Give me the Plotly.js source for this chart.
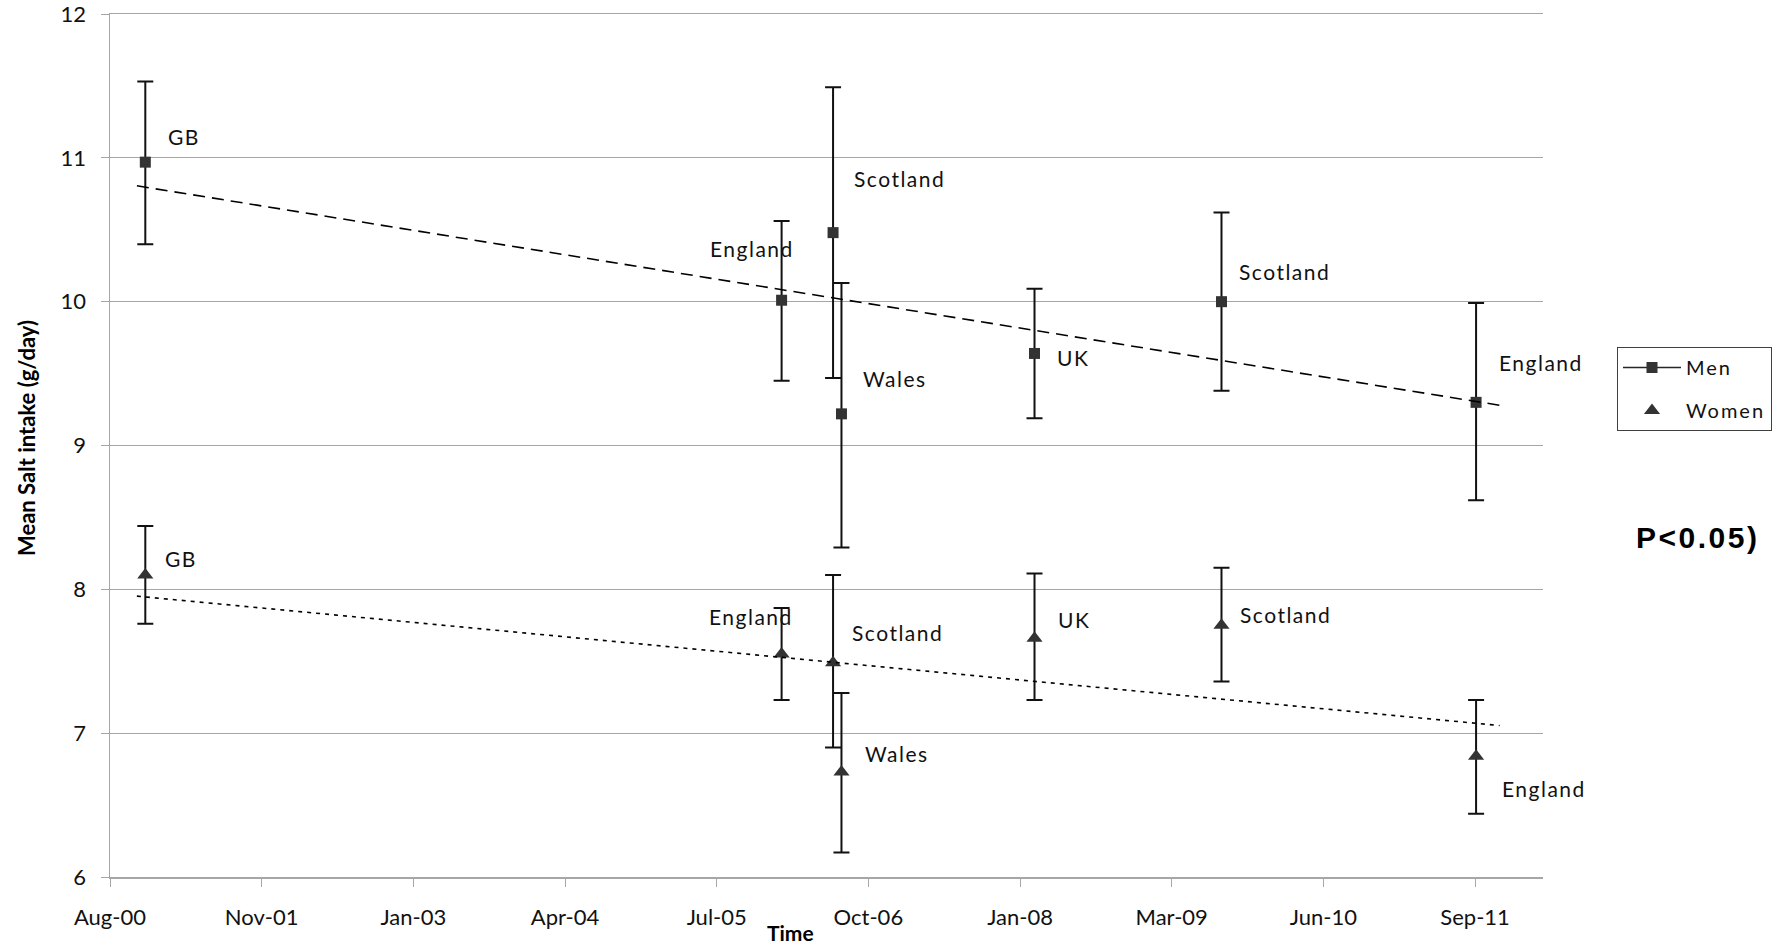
<!DOCTYPE html>
<html><head><meta charset="utf-8">
<script src="https://cdn.plot.ly/plotly-3.0.1.min.js"></script>
<style>html,body{margin:0;padding:0;background:#fff}#chart{width:1780px;height:947px}</style>
</head><body><div id="chart"></div>
<script>
// ---- data ----
const surveys = ["GB", "England", "Scotland", "Wales", "UK", "Scotland", "England"];
const surveyDates = ["2000-11-20", "2006-01-25", "2006-06-27", "2006-07-22", "2008-02-16", "2009-08-25", "2011-09-21"];
const menMean  = [10.97, 10.01, 10.48, 9.22, 9.64, 10.00, 9.30];
const menUpper = [11.53, 10.56, 11.49, 10.13, 10.09, 10.62, 9.99];
const menLower = [10.40, 9.45, 9.47, 8.29, 9.19, 9.38, 8.62];
const womenMean  = [8.10, 7.55, 7.49, 6.73, 7.66, 7.75, 6.84];
const womenUpper = [8.44, 7.87, 8.10, 7.28, 8.11, 8.15, 7.23];
const womenLower = [7.76, 7.23, 6.90, 6.17, 7.23, 7.36, 6.44];
const tickLabels = ["Aug-00", "Nov-01", "Jan-03", "Apr-04", "Jul-05", "Oct-06", "Jan-08", "Mar-09", "Jun-10", "Sep-11"];
const yTicks = [6, 7, 8, 9, 10, 11, 12];

// ---- layout constants (not data) ----
const DAY = 864e5;
const axisStart = Date.UTC(2000, 7, 7);
const tickStepDays = 451;
const axisEnd = Date.UTC(2012, 3, 7);
const trendBackDays = 25, trendFwdDays = 70;
const FONT = "Lato, 'Open Sans', sans-serif";
const GRID = "#a6a6a6";
const spaced = (s, ls) => "<span style='letter-spacing:" + ls + "px'>" + s + "</span>";

const menLabelPos = [
  {a: "left", dx: 21, dy: 26}, {a: "right", dx: 14, dy: 52}, {a: "left", dx: 19, dy: 54},
  {a: "left", dx: 20, dy: 35}, {a: "left", dx: 20, dy: -4}, {a: "left", dx: 16, dy: 30},
  {a: "left", dx: 21, dy: 40}];
const womenLabelPos = [
  {a: "left", dx: 18, dy: 16}, {a: "right", dx: 13, dy: 38}, {a: "left", dx: 17, dy: 30},
  {a: "left", dx: 22, dy: 19}, {a: "left", dx: 21, dy: 19}, {a: "left", dx: 17, dy: 11},
  {a: "left", dx: 24, dy: -32}];

function toMs(d) { return Date.parse(d + "T00:00:00Z"); }
function trend(dates, vals) {
  const t = dates.map(d => toMs(d) / DAY);
  const n = t.length;
  const mt = t.reduce((a, b) => a + b, 0) / n;
  const my = vals.reduce((a, b) => a + b, 0) / n;
  let sxy = 0, sxx = 0;
  for (let i = 0; i < n; i++) { sxy += (t[i] - mt) * (vals[i] - my); sxx += (t[i] - mt) ** 2; }
  const b = sxy / sxx;
  const t0 = Math.min(...t) - trendBackDays, t1 = Math.max(...t) + trendFwdDays;
  return {x: [t0 * DAY, t1 * DAY], y: [my + b * (t0 - mt), my + b * (t1 - mt)]};
}
function errBar(mean, up, lo) {
  return {type: "data", symmetric: false,
    array: up.map((u, i) => u - mean[i]), arrayminus: lo.map((l, i) => mean[i] - l),
    color: "#111", thickness: 2, width: 8};
}

const menTrend = trend(surveyDates, menMean);
const womenTrend = trend(surveyDates, womenMean);

const traces = [
  {x: surveyDates, y: menMean, type: "scatter", mode: "markers", showlegend: false,
   marker: {symbol: "square", size: 11, color: "#333"}, error_y: errBar(menMean, menUpper, menLower)},
  {x: surveyDates, y: womenMean, type: "scatter", mode: "markers", showlegend: false,
   marker: {symbol: "triangle-up", size: 14, color: "#333"}, error_y: errBar(womenMean, womenUpper, womenLower)},
  {x: menTrend.x, y: menTrend.y, type: "scatter", mode: "lines", showlegend: false,
   line: {color: "#000", width: 1.6, dash: "12px,7px"}},
  {x: womenTrend.x, y: womenTrend.y, type: "scatter", mode: "lines", showlegend: false,
   line: {color: "#000", width: 1.6, dash: "4px,5px"}},
  {x: [null], y: [null], type: "scatter", mode: "lines+markers", name: spaced("Men", 2), legendgroup: "m",
   line: {color: "#262626", width: 1.6}, marker: {symbol: "square", size: 11, color: "#333"}},
  {x: [null], y: [null], type: "scatter", mode: "markers", name: spaced("Women", 2), legendgroup: "w",
   marker: {symbol: "triangle-up", size: 14, color: "#333"}}
];

const annotations = [];
function addLabels(means, pos) {
  surveys.forEach((s, i) => {
    const p = pos[i];
    annotations.push({x: toMs(surveyDates[i]), y: means[i], xref: "x", yref: "y", text: spaced(s, 1.5),
      showarrow: false, xanchor: p.a, yanchor: "middle", xshift: p.dx, yshift: p.dy,
      font: {family: FONT, size: 21, color: "#111"}});
  });
}
addLabels(menMean, menLabelPos);
addLabels(womenMean, womenLabelPos);

const W = 1780, H = 947, ML = 110, MR = 237, MT = 14, MB = 70;
const pw = W - ML - MR, ph = H - MT - MB;
const px = v => (v - ML) / pw, py = v => (H - MB - v) / ph;

annotations.push({xref: "paper", yref: "paper", x: px(790), y: py(932), text: "<b>Time</b>",
  showarrow: false, xanchor: "center", yanchor: "middle", font: {family: FONT, size: 21, color: "#000"}});
annotations.push({xref: "paper", yref: "paper", x: px(26), y: py(438), text: "<b>Mean Salt intake (g/day)</b>",
  textangle: -90, showarrow: false, xanchor: "center", yanchor: "middle", font: {family: FONT, size: 22, color: "#000"}});
annotations.push({xref: "paper", yref: "paper", x: px(1697), y: py(537), text: "<b>" + spaced("P&lt;0.05)", 2.5) + "</b>",
  showarrow: false, xanchor: "center", yanchor: "middle",
  font: {family: "'Liberation Sans', Arial, sans-serif", size: 30, color: "#000"}});

const tickvals = tickLabels.map((_, i) => axisStart + i * tickStepDays * DAY);

const layout = {
  width: W, height: H, paper_bgcolor: "#fff", plot_bgcolor: "#fff",
  margin: {l: ML, r: MR, t: MT, b: MB, autoexpand: false},
  font: {family: FONT, color: "#111"},
  xaxis: {type: "date", range: [axisStart, axisEnd], tickmode: "array", tickvals: tickvals, ticktext: tickLabels,
    ticks: "outside", ticklen: 8, tickcolor: GRID, showline: true, linecolor: GRID, linewidth: 1.5, mirror: true,
    showgrid: false, zeroline: false, tickfont: {family: FONT, size: 22, color: "#111"}, ticklabelstandoff: 12,
    ticklabeloverflow: "allow", automargin: false},
  yaxis: {range: [6, 12], tickmode: "array", tickvals: yTicks, ticks: "outside", ticklen: 8, tickcolor: GRID,
    showline: true, linecolor: GRID, linewidth: 1.5, showgrid: true, gridcolor: GRID, gridwidth: 1,
    zeroline: false, tickfont: {family: FONT, size: 22, color: "#111"}, ticklabelstandoff: 10,
    ticklabeloverflow: "allow", automargin: false},
  showlegend: true,
  legend: {x: px(1617), y: py(347), xanchor: "left", yanchor: "top", bordercolor: "#404040", borderwidth: 1,
    bgcolor: "#fff", font: {family: FONT, size: 20, color: "#111"}, traceorder: "grouped", tracegroupgap: 14,
    itemwidth: 58},
  annotations: annotations
};

Plotly.newPlot("chart", traces, layout, {staticPlot: true, displayModeBar: false});
</script></body></html>
